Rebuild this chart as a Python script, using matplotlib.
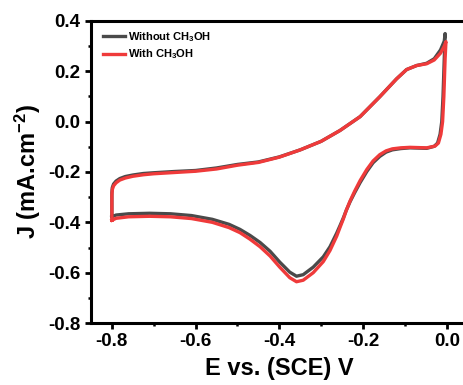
import matplotlib
matplotlib.use('Agg')
import matplotlib.pyplot as plt
from matplotlib.ticker import MultipleLocator

plt.rcParams['font.family'] = 'Liberation Sans'
plt.rcParams['font.weight'] = 'bold'
plt.rcParams['mathtext.fontset'] = 'custom'
plt.rcParams['mathtext.rm'] = 'Liberation Sans:bold'
plt.rcParams['mathtext.it'] = 'Liberation Sans:bold'
plt.rcParams['mathtext.bf'] = 'Liberation Sans:bold'
plt.rcParams['mathtext.default'] = 'rm'

# CV loop without methanol: vertical step at -0.8 V, anodic sweep to 0 V, cathodic sweep back
E_without = [-0.800, -0.800, -0.799, -0.796, -0.790, -0.781, -0.768, -0.750, -0.725, -0.700,
             -0.650, -0.600, -0.550, -0.500, -0.450, -0.400, -0.350, -0.300, -0.255, -0.207,
             -0.160, -0.120, -0.096, -0.072, -0.048, -0.030, -0.015, -0.006, -0.004,
             -0.006, -0.009, -0.012, -0.016, -0.022, -0.030, -0.048, -0.088, -0.110, -0.130,
             -0.145, -0.160, -0.176, -0.191, -0.207, -0.220, -0.231, -0.240, -0.247, -0.255,
             -0.263, -0.279, -0.295, -0.319, -0.343, -0.359, -0.375, -0.399, -0.422, -0.446,
             -0.470, -0.494, -0.520, -0.560, -0.610, -0.660, -0.710, -0.760, -0.790, -0.800]
J_without = [-0.378, -0.283, -0.262, -0.248, -0.236, -0.226, -0.218, -0.212, -0.206, -0.203,
             -0.198, -0.194, -0.184, -0.170, -0.160, -0.140, -0.112, -0.078, -0.035, 0.020,
             0.099, 0.170, 0.207, 0.223, 0.232, 0.250, 0.285, 0.320, 0.350,
             0.250, 0.100, 0.000, -0.050, -0.085, -0.098, -0.106, -0.104, -0.107, -0.112,
             -0.121, -0.138, -0.163, -0.198, -0.242, -0.282, -0.318, -0.352, -0.382, -0.413,
             -0.443, -0.497, -0.537, -0.578, -0.608, -0.614, -0.598, -0.558, -0.515, -0.480,
             -0.452, -0.428, -0.408, -0.388, -0.373, -0.366, -0.364, -0.366, -0.371, -0.378]

# CV loop with methanol
E_with = [-0.800, -0.800, -0.799, -0.796, -0.790, -0.781, -0.768, -0.750, -0.725, -0.700,
          -0.650, -0.600, -0.550, -0.500, -0.450, -0.400, -0.350, -0.300, -0.255, -0.207,
          -0.160, -0.120, -0.096, -0.072, -0.048, -0.030, -0.015, -0.006, -0.002,
          -0.004, -0.007, -0.010, -0.014, -0.020, -0.028, -0.048, -0.088, -0.110, -0.130,
          -0.145, -0.160, -0.176, -0.191, -0.207, -0.220, -0.231, -0.240, -0.247, -0.255,
          -0.263, -0.279, -0.295, -0.319, -0.343, -0.359, -0.375, -0.399, -0.422, -0.446,
          -0.470, -0.494, -0.520, -0.560, -0.610, -0.660, -0.710, -0.760, -0.790, -0.800]
J_with = [-0.392, -0.292, -0.270, -0.255, -0.243, -0.232, -0.224, -0.217, -0.211, -0.207,
          -0.202, -0.197, -0.188, -0.173, -0.162, -0.141, -0.112, -0.078, -0.035, 0.020,
          0.099, 0.170, 0.207, 0.223, 0.230, 0.245, 0.272, 0.300, 0.318,
          0.250, 0.100, 0.000, -0.050, -0.085, -0.097, -0.104, -0.102, -0.104, -0.108,
          -0.116, -0.131, -0.156, -0.190, -0.234, -0.276, -0.315, -0.352, -0.386, -0.420,
          -0.455, -0.512, -0.556, -0.600, -0.630, -0.636, -0.620, -0.578, -0.534, -0.497,
          -0.467, -0.441, -0.421, -0.400, -0.385, -0.378, -0.376, -0.378, -0.384, -0.392]

labels = ['Without CH$_3$OH', 'With CH$_3$OH']
colors = ['#4a4a4a', '#ef3a3a']

fig = plt.figure(figsize=(4.64, 3.85), dpi=100)
ax = fig.add_axes([0.196, 0.161, 0.812, 0.7845])

ax.plot(E_without, J_without, color=colors[0], lw=2.4, label=labels[0])
ax.plot(E_with, J_with, color=colors[1], lw=2.4, label=labels[1])

ax.set_xlim(-0.85, 0.05)
ax.set_ylim(-0.8, 0.4)
ax.xaxis.set_major_locator(MultipleLocator(0.2))
ax.xaxis.set_minor_locator(MultipleLocator(0.1))
ax.yaxis.set_major_locator(MultipleLocator(0.2))
ax.yaxis.set_minor_locator(MultipleLocator(0.1))
ax.xaxis.set_major_formatter(lambda v, p: '%.1f' % v)
ax.yaxis.set_major_formatter(lambda v, p: '%.1f' % v)

for s in ax.spines.values():
    s.set_linewidth(2.2)
ax.tick_params(which='major', direction='out', length=4, width=2, labelsize=13.5, pad=3.5)
ax.tick_params(which='minor', direction='out', length=2, width=1.8)

ax.set_xlabel('E vs. (SCE) V', fontsize=17, fontweight='bold', labelpad=5)
ax.set_ylabel('J (mA.cm$^{-2}$)', fontsize=17, fontweight='bold', labelpad=4)

ax.legend(loc='upper left', bbox_to_anchor=(0.02, 0.985), frameon=False, fontsize=8,
          handlelength=2.0, handletextpad=0.3, labelspacing=0.35, borderaxespad=0)

fig.savefig('out.png', dpi=100)
